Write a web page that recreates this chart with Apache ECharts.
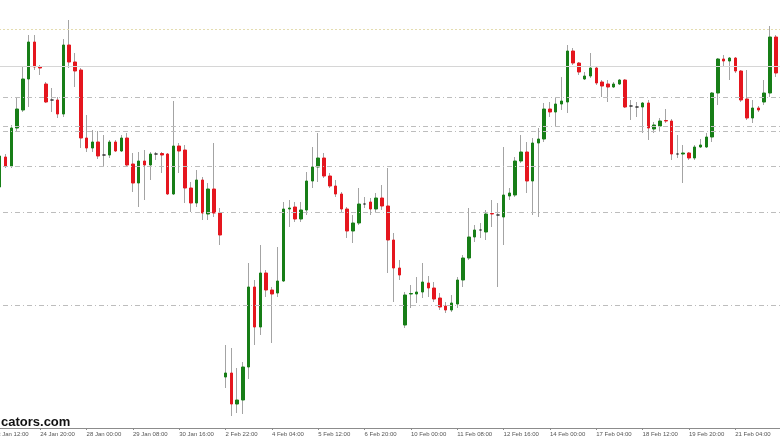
<!DOCTYPE html>
<html>
<head>
<meta charset="utf-8">
<script src="https://cdn.jsdelivr.net/npm/echarts@6/dist/echarts.min.js"></script>
<style>
html,body{margin:0;padding:0;background:#ffffff;}
#chart{width:780px;height:438px;}
</style>
</head>
<body>
<div id="chart"></div>
<script>
// 4-hour bars (first category is only a partially visible label at the left edge)
const categories = [
'23 Jan 12:00','23 Jan 16:00','23 Jan 20:00','24 Jan 00:00','24 Jan 04:00','24 Jan 08:00','24 Jan 12:00','24 Jan 16:00','24 Jan 20:00',
'26 Jan 22:00','27 Jan 00:00','27 Jan 04:00','27 Jan 08:00','27 Jan 12:00','27 Jan 16:00','27 Jan 20:00',
'28 Jan 00:00','28 Jan 04:00','28 Jan 08:00','28 Jan 12:00','28 Jan 16:00','28 Jan 20:00',
'29 Jan 00:00','29 Jan 04:00','29 Jan 08:00','29 Jan 12:00','29 Jan 16:00','29 Jan 20:00',
'30 Jan 00:00','30 Jan 04:00','30 Jan 08:00','30 Jan 12:00','30 Jan 16:00','30 Jan 20:00',
'31 Jan 00:00','31 Jan 04:00','31 Jan 08:00','31 Jan 12:00','31 Jan 16:00','31 Jan 20:00',
'2 Feb 22:00','3 Feb 00:00','3 Feb 04:00','3 Feb 08:00','3 Feb 12:00','3 Feb 16:00','3 Feb 20:00',
'4 Feb 00:00','4 Feb 04:00','4 Feb 08:00','4 Feb 12:00','4 Feb 16:00','4 Feb 20:00',
'5 Feb 00:00','5 Feb 04:00','5 Feb 08:00','5 Feb 12:00','5 Feb 16:00','5 Feb 20:00',
'6 Feb 00:00','6 Feb 04:00','6 Feb 08:00','6 Feb 12:00','6 Feb 16:00','6 Feb 20:00',
'7 Feb 00:00','7 Feb 04:00','7 Feb 08:00','7 Feb 12:00','7 Feb 16:00','7 Feb 20:00',
'9 Feb 22:00','10 Feb 00:00','10 Feb 04:00','10 Feb 08:00','10 Feb 12:00','10 Feb 16:00','10 Feb 20:00',
'11 Feb 00:00','11 Feb 04:00','11 Feb 08:00','11 Feb 12:00','11 Feb 16:00','11 Feb 20:00',
'12 Feb 00:00','12 Feb 04:00','12 Feb 08:00','12 Feb 12:00','12 Feb 16:00','12 Feb 20:00',
'13 Feb 00:00','13 Feb 04:00','13 Feb 08:00','13 Feb 12:00','13 Feb 16:00','13 Feb 20:00',
'14 Feb 00:00','14 Feb 04:00','14 Feb 08:00','14 Feb 12:00','14 Feb 16:00','14 Feb 20:00',
'16 Feb 22:00','17 Feb 00:00','17 Feb 04:00','17 Feb 08:00','17 Feb 12:00','17 Feb 16:00','17 Feb 20:00',
'18 Feb 00:00','18 Feb 04:00','18 Feb 08:00','18 Feb 12:00','18 Feb 16:00','18 Feb 20:00',
'19 Feb 00:00','19 Feb 04:00','19 Feb 08:00','19 Feb 12:00','19 Feb 16:00','19 Feb 20:00',
'20 Feb 00:00','20 Feb 04:00','20 Feb 08:00','20 Feb 12:00','20 Feb 16:00','20 Feb 20:00',
'21 Feb 00:00','21 Feb 04:00','21 Feb 08:00','21 Feb 12:00','21 Feb 16:00','21 Feb 20:00',
'23 Feb 22:00','24 Feb 00:00','24 Feb 04:00','24 Feb 08:00'
];

const opens = [
263,293,284,322,340,371,408,383,366,350,
350,336,405,388,380,312,302,308,295,295,
308,299,312,286,267,289,285,296,296.5,296,
256,304,300,262,247,270,236,261,237,73,
77,46,50,83,163,123,177,160,157,169,
241,243,231,240,269,283,292,274,264,256,
241,219,227,246,248,241,252,244,210,182,
125,156,156,158,167,162,152,144,140,146,
170,192,213,220,218,236.5,235,233,254,255,
289,298,269,307,311,341,338,346,348,399,
387,371,374,382,368,366,363,366,370,344,
343,343,347,321,324,329.5,329,296,296,297,
292,303,303,313,357,391,389,392,379,351,
332,342,348,357,413,373
];
const closes = [
294,284,322,341,371,408,383,382,348,350,
336,405,388,379,312,302,308,294,295,308,
299,312,285,267,289,285,296,296,295,256,
304,299,262,247,270,237,261,237,215,77,
46,50,83,163,123,177,160,156,169,241,
242,231,240,269,283,292,274,264,256,241,
219,227,246,246,241,252,244,210,182,175,
155,156.5,158,168,162,151,143,140,147,170,
192,213,220,220,236,236,235,255,257,289,
298,269,307,311,341,338,346,349,399,387,
378,374,382,367,364,363,366,370,343,344,
343,347,322,325,329,329,296,296,297,292,
303,305,313,357,391,389,392,379,350,332,
342,340,357,413,377,357
];
const lows = [
260,282,282,318,338,343,380,375,347,338,
332,333,382,363,302,298,298,291,283,292,
298,298,283,258,243,250,270,290,277,255,
255,277,247,238,243,230,230,233,205,62,
34,37,36,71,105,115,153,107,153,168,
223,228,228,235,262,268,272,262,253,238,
212,207,225,242,235,238,240,177,148,170,
122,142,147,152,153,148,140,137,138,142,
163,190,208,212,210,223,163,205,250,253,
287,257,235,233,308,333,323,340,337,385,
375,370,372,365,353,348,362,365,342,330,
333,317,310,317,318,327,290,292,267,290,
290,302,302,308,345,383,370,377,348,330,
327,338,345,353,373,355
];
const highs = [
300,296,325,352,383,415,415,385,368,362,
353,411,430,397,382,335,320,319,315,310,
310,315,317,297,298,300,298,298,298,297,
349,307,305,268,280,273,267,307,242,105,
102,82,88,187,170,205,180,163,203,248,
250,248,248,278,303,317,297,277,270,258,
243,235,262,253,252,257,265,282,217,190,
158,165,173,187,174,168,157,148,155,173,
195,242,225,227,240,250,247,303,262,293,
315,308,312,322,347,348,353,373,405,402,
388,378,397,383,370,370,368,371,371,350,
348,348,350,328,332,341,331,315,305,298,
305,311,317,358,392,395,393,393,380,380,
350,344,370,424,415,375
];

// horizontal price levels drawn across the chart
const levels = [421, 384, 352.3, 323.3, 319, 284, 238, 145];
const levelKinds = ['dotted-yellow', 'solid', 'dashdot', 'dashdot', 'dashdot', 'dashdot', 'dashdot', 'dashdot'];

const UP = '#177e17';
const DOWN = '#e5161e';
const WICK = '#a4a4a4';

const wickData = [['-','-','-','-']];
const bodyData = [['-','-','-','-']];
for (let i = 0; i < opens.length; i++) {
  wickData.push([opens[i], closes[i], lows[i], highs[i]]);
  bodyData.push([opens[i], closes[i], Math.min(opens[i], closes[i]), Math.max(opens[i], closes[i])]);
}

function levelStyle(kind) {
  if (kind === 'dotted-yellow') return {color: '#e4dcb0', width: 1, type: [2, 2]};
  if (kind === 'solid') return {color: '#d6d6d6', width: 1, type: 'solid'};
  return {color: '#bdbdbd', width: 1, type: [5, 3, 1, 3]};
}

const labelEvery = (idx) => idx % 8 === 0;

const chart = echarts.init(document.getElementById('chart'), null, {renderer: 'canvas'});
chart.setOption({
  animation: false,
  backgroundColor: '#ffffff',
  grid: {left: -9, right: -4.5, top: 0, bottom: 10, containLabel: false, outerBoundsMode: 'none'},
  xAxis: {
    type: 'category',
    data: categories,
    boundaryGap: true,
    axisLine: {show: true, lineStyle: {color: '#8c8c8c', width: 1}},
    axisTick: {show: true, interval: labelEvery, alignWithLabel: true, length: 2, lineStyle: {color: '#8c8c8c'}},
    axisLabel: {
      show: true, interval: labelEvery, align: 'left', margin: 3,
      fontSize: 6, color: '#555555', fontFamily: 'Liberation Sans'
    },
    splitLine: {show: false}
  },
  yAxis: {
    type: 'value', min: 22, max: 450, show: false,
    splitLine: {show: false}
  },
  graphic: [{
    type: 'text', left: 1, top: 416, z: 100,
    style: {text: 'cators.com', font: 'bold 13px "Liberation Sans"', fill: '#111111'}
  }],
  series: [
    {
      type: 'line', data: [], z: 1, silent: true,
      markLine: {
        silent: true, symbol: ['none', 'none'], label: {show: false},
        data: levels.map((v, i) => ({yAxis: v, lineStyle: levelStyle(levelKinds[i])}))
      }
    },
    {
      type: 'candlestick', z: 2, barWidth: 1, silent: true,
      data: wickData,
      itemStyle: {color: WICK, color0: WICK, borderColor: WICK, borderColor0: WICK, borderColorDoji: WICK, borderWidth: 1}
    },
    {
      type: 'candlestick', z: 3, barWidth: 3, silent: true,
      data: bodyData,
      itemStyle: {color: UP, color0: DOWN, borderColor: UP, borderColor0: DOWN, borderColorDoji: '#333333', borderWidth: 1}
    }
  ]
});
</script>
</body>
</html>
